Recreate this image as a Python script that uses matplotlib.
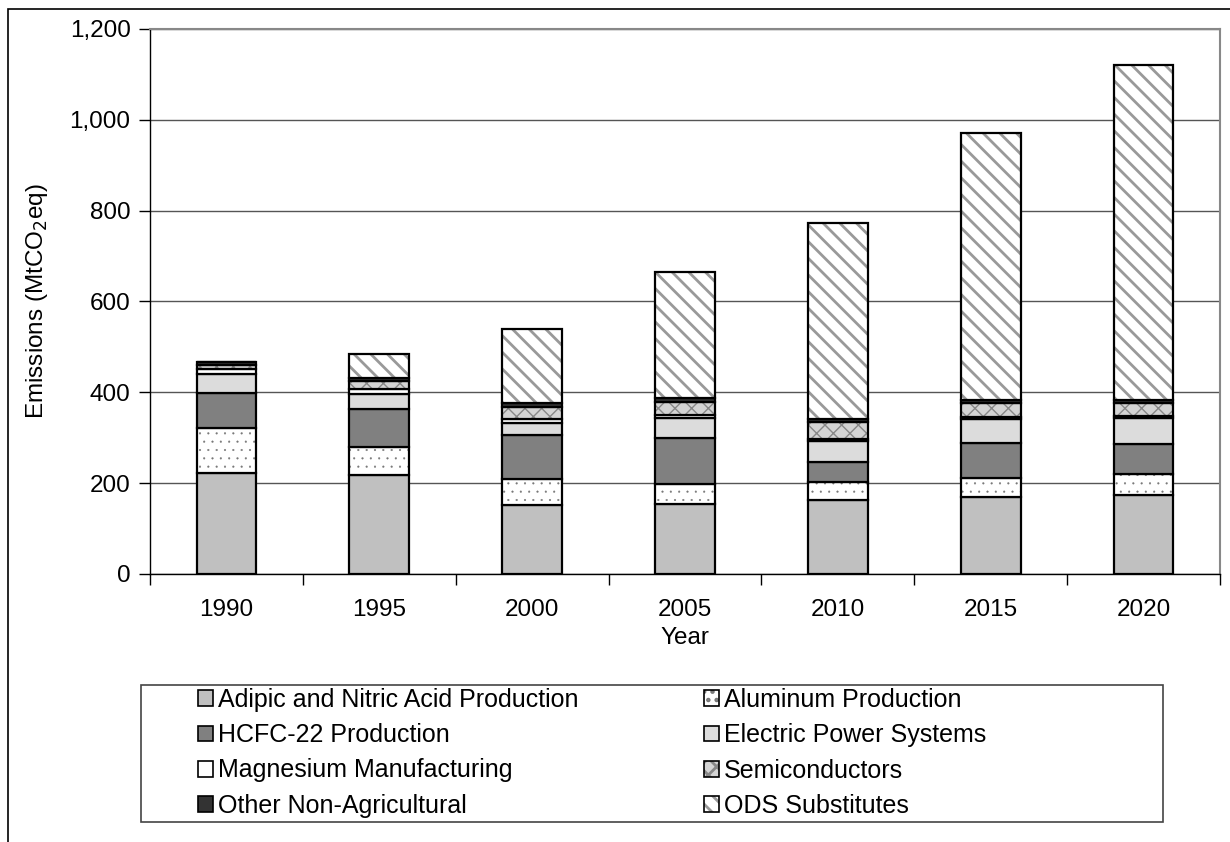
import numpy as np
import matplotlib
matplotlib.use('Agg')
import matplotlib.pyplot as plt
from matplotlib.patches import Patch, Rectangle
from matplotlib.ticker import StrMethodFormatter, FixedLocator

years = ['1990', '1995', '2000', '2005', '2010', '2015', '2020']
sources = ['Adipic and Nitric Acid Production', 'Aluminum Production',
           'HCFC-22 Production', 'Electric Power Systems',
           'Magnesium Manufacturing', 'Semiconductors',
           'Other Non-Agricultural', 'ODS Substitutes']

adipic = [223, 218, 152, 154, 163, 169, 174]
aluminum = [98, 61, 57, 44, 39, 42, 46]
hcfc22 = [77, 84, 97, 102, 45, 78, 66]
electric = [42, 33, 27, 44, 46, 52, 58]
magnesium = [11, 11, 8, 6, 4, 5, 4]
semis = [9, 17, 27, 29, 38, 31, 29]
other = [6, 7, 8, 8, 6, 6, 6]
ods = [1, 54, 164, 278, 432, 587, 737]

series = [adipic, aluminum, hcfc22, electric, magnesium, semis, other, ods]
# face colour, hatch, hatch colour, hatch width
styles = [('#c0c0c0', None, '#c0c0c0', 1.0),
          ('white', '..', '#777777', 0.3),
          ('#808080', None, '#808080', 1.0),
          ('#dcdcdc', None, '#dcdcdc', 1.0),
          ('white', None, 'white', 1.0),
          ('#d4d4d4', 'xx', '#888888', 1.0),
          ('#333333', None, '#333333', 1.0),
          ('white', '\\\\', '#999999', 2.0)]

plt.rcParams['font.family'] = ['Liberation Sans', 'DejaVu Sans']
fs = 17.5

fig = plt.figure(figsize=(12.3, 8.42), dpi=100)
ax = fig.add_axes([150/1230, 1-574/842, 1070/1230, 545/842])
ax.set_axisbelow(True)

pos = np.arange(len(years))
barwidth = 0.39
bottom = np.zeros(len(years))
handles = []
for vals, (fc, hatch, hc, hw), name in zip(series, styles, sources):
  vals = np.array(vals, dtype=float)
  plt.rcParams['hatch.linewidth'] = hw
  bars = ax.bar(pos, vals, barwidth, bottom=bottom, color=fc, hatch=hatch,
                edgecolor=hc, linewidth=0)
  for b in bars:
    if hasattr(b, 'set_hatch_linewidth'):
      b.set_hatch_linewidth(hw)
  ax.bar(pos, vals, barwidth, bottom=bottom, fill=False, edgecolor='black', linewidth=1.6)
  bottom += vals
  hp = Patch(facecolor=fc, hatch=hatch, edgecolor=hc, linewidth=0)
  if hasattr(hp, 'set_hatch_linewidth'):
    hp.set_hatch_linewidth(min(hw, 1.0))
  op = Patch(fill=False, edgecolor='black', linewidth=1.2)
  handles.append((hp, op))

ax.set_xlim(-0.5, len(years)-0.5)
ax.set_ylim(0, 1200)
ax.yaxis.set_major_formatter(StrMethodFormatter('{x:,.0f}'))
ax.set_yticks(np.arange(0, 1201, 200))
ax.set_xticks(pos)
ax.set_xticklabels(years)
ax.xaxis.set_minor_locator(FixedLocator(np.arange(-0.5, len(years), 1)))
ax.tick_params(axis='x', which='major', length=0, labelsize=fs, pad=18)
ax.tick_params(axis='x', which='minor', length=8, direction='out', width=1)
ax.tick_params(axis='y', length=8, direction='out', width=1, labelsize=fs, pad=6)
ax.yaxis.grid(color='#555555', linewidth=1.0)
for s in ['top', 'right']:
  ax.spines[s].set_color('#888888')
  ax.spines[s].set_linewidth(1.5)
for s in ['left', 'bottom']:
  ax.spines[s].set_color('black')
  ax.spines[s].set_linewidth(1.0)

ax.set_ylabel('Emissions (MtCO$_2$eq)', fontsize=fs, labelpad=14)
ax.set_xlabel('Year', fontsize=fs, labelpad=4)

# legend is filled row by row in the original
order = [0, 2, 4, 6, 1, 3, 5, 7]
leg = fig.legend([handles[i] for i in order], [sources[i] for i in order],
                 loc='upper left', ncol=2,
                 bbox_to_anchor=(198/1230, 1-688/842), bbox_transform=fig.transFigure,
                 frameon=False, fontsize=18, borderpad=0, borderaxespad=0,
                 handlelength=0.6, handleheight=0.6, handletextpad=0.2,
                 labelspacing=0.45, columnspacing=5.0)

# legend frame and chart border
fig.add_artist(Rectangle((141/1230, 1-822/842), 1022/1230, 137/842,
                         transform=fig.transFigure, fill=False,
                         edgecolor='#444444', linewidth=1.2))
fig.add_artist(Rectangle((8/1230, -0.1), 1.1, 1-9/842+0.1,
                         transform=fig.transFigure, fill=False,
                         edgecolor='black', linewidth=1.2))

plt.savefig('out.png', dpi=100)
